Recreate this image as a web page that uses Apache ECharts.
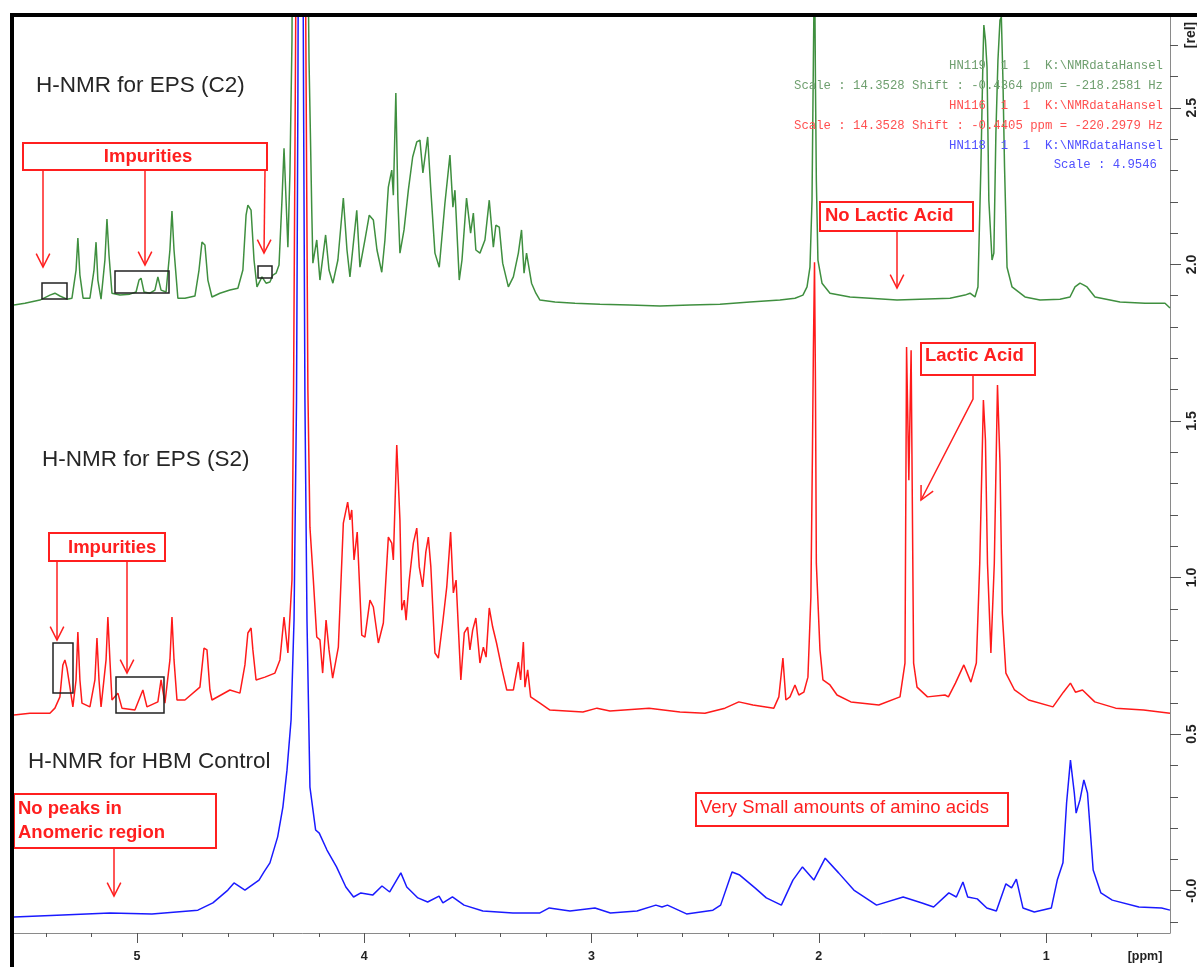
<!DOCTYPE html>
<html><head><meta charset="utf-8">
<script src="https://cdn.jsdelivr.net/npm/echarts@6/dist/echarts.min.js"></script>
<style>html,body{margin:0;padding:0;background:#fff}#c{width:1197px;height:967px}</style>
</head><body><div id="c"></div>
<script>
// ---- axis ticks ----
const ppmTicks = [1, 2, 3, 4, 5];
const ppmMinorTicks = [0.6, 0.8, 1.2, 1.4, 1.6, 1.8, 2.2, 2.4, 2.6, 2.8, 3.2, 3.4, 3.6, 3.8, 4.2, 4.4, 4.6, 4.8, 5.2, 5.4];
const relTicks = [0, 0.5, 1, 1.5, 2, 2.5];
const relMinorTicks = [-0.1, 0.1, 0.2, 0.3, 0.4, 0.6, 0.7, 0.8, 0.9, 1.1, 1.2, 1.3, 1.4, 1.6, 1.7, 1.8, 1.9, 2.1, 2.2, 2.3, 2.4, 2.6, 2.7];

// ---- spectra [ppm, rel intensity] ----
const greenC2 = [[5.541,1.870],[5.493,1.876],[5.427,1.886],[5.383,1.902],[5.361,1.908],[5.339,1.899],[5.308,1.889],[5.286,1.892],[5.268,1.982],[5.260,2.084],[5.251,1.966],[5.237,1.892],[5.207,1.892],[5.189,1.982],[5.180,2.071],[5.172,1.950],[5.158,1.889],[5.141,2.014],[5.132,2.145],[5.123,2.030],[5.110,1.908],[5.075,1.902],[5.031,1.905],[5.004,1.912],[4.991,1.950],[4.982,1.956],[4.969,1.912],[4.943,1.908],[4.921,1.918],[4.908,1.960],[4.894,1.918],[4.872,1.912],[4.855,2.046],[4.846,2.170],[4.837,2.046],[4.820,1.892],[4.789,1.892],[4.745,1.899],[4.727,1.982],[4.714,2.071],[4.701,2.062],[4.688,1.950],[4.670,1.896],[4.635,1.908],[4.591,1.918],[4.556,1.924],[4.534,1.982],[4.520,2.157],[4.512,2.189],[4.498,2.173],[4.485,2.014],[4.472,1.928],[4.450,1.960],[4.432,1.940],[4.415,1.944],[4.402,1.966],[4.388,1.972],[4.375,1.998],[4.362,2.205],[4.353,2.371],[4.344,2.205],[4.336,2.055],[4.327,2.292],[4.318,2.716],[4.314,3.3],[4.283,8],[4.252,3.3],[4.243,2.652],[4.237,2.419],[4.231,2.173],[4.226,2.004],[4.209,2.078],[4.195,1.950],[4.170,2.094],[4.155,1.982],[4.138,1.940],[4.116,2.014],[4.092,2.212],[4.076,2.046],[4.063,1.960],[4.033,2.173],[4.019,1.991],[3.997,2.078],[3.978,2.157],[3.960,2.142],[3.944,2.046],[3.923,1.975],[3.909,2.078],[3.894,2.247],[3.879,2.301],[3.872,2.221],[3.861,2.547],[3.852,2.205],[3.843,2.036],[3.825,2.110],[3.806,2.237],[3.787,2.343],[3.769,2.391],[3.755,2.397],[3.742,2.292],[3.721,2.407],[3.708,2.247],[3.689,2.036],[3.670,1.991],[3.645,2.196],[3.623,2.349],[3.610,2.183],[3.601,2.237],[3.582,1.950],[3.570,2.014],[3.550,2.212],[3.532,2.100],[3.520,2.164],[3.509,2.046],[3.491,2.036],[3.469,2.078],[3.450,2.205],[3.432,2.055],[3.421,2.125],[3.406,2.119],[3.391,2.004],[3.366,1.928],[3.344,1.960],[3.322,2.036],[3.308,2.110],[3.297,1.972],[3.286,2.036],[3.264,1.940],[3.245,1.908],[3.227,1.886],[3.161,1.880],[3.073,1.876],[2.963,1.873],[2.831,1.870],[2.699,1.867],[2.567,1.870],[2.435,1.873],[2.303,1.880],[2.171,1.886],[2.105,1.892],[2.070,1.902],[2.052,1.928],[2.039,1.991],[2.030,2.205],[2.024,2.652],[2.019,3.0],[2.015,2.589],[2.011,2.269],[2.004,2.014],[1.986,1.940],[1.951,1.908],[1.863,1.896],[1.775,1.892],[1.656,1.886],[1.555,1.889],[1.423,1.892],[1.357,1.902],[1.335,1.908],[1.313,1.896],[1.300,1.928],[1.287,2.311],[1.278,2.652],[1.274,2.764],[1.267,2.716],[1.260,2.630],[1.252,2.205],[1.238,2.014],[1.230,2.036],[1.221,2.419],[1.212,2.652],[1.203,2.780],[1.197,2.790],[1.190,2.589],[1.183,2.311],[1.172,1.991],[1.150,1.928],[1.093,1.896],[1.027,1.886],[0.939,1.889],[0.895,1.896],[0.873,1.928],[0.851,1.940],[0.834,1.934],[0.820,1.928],[0.785,1.896],[0.675,1.880],[0.565,1.876],[0.477,1.876],[0.455,1.861]];

const redS2 = [[5.541,0.561],[5.471,0.567],[5.383,0.567],[5.361,0.583],[5.339,0.619],[5.326,0.721],[5.317,0.737],[5.308,0.711],[5.295,0.650],[5.282,0.587],[5.268,0.673],[5.260,0.826],[5.251,0.673],[5.242,0.599],[5.207,0.587],[5.185,0.673],[5.176,0.807],[5.167,0.673],[5.158,0.587],[5.136,0.737],[5.128,0.874],[5.119,0.737],[5.110,0.609],[5.084,0.631],[5.066,0.583],[5.009,0.577],[4.974,0.641],[4.956,0.587],[4.908,0.603],[4.894,0.673],[4.877,0.599],[4.855,0.737],[4.846,0.874],[4.837,0.737],[4.824,0.609],[4.789,0.609],[4.723,0.650],[4.705,0.775],[4.692,0.769],[4.679,0.641],[4.670,0.609],[4.591,0.641],[4.547,0.631],[4.525,0.721],[4.512,0.823],[4.498,0.839],[4.490,0.769],[4.476,0.673],[4.437,0.682],[4.393,0.695],[4.371,0.737],[4.353,0.874],[4.336,0.759],[4.318,0.992],[4.311,1.6],[4.303,2.6],[4.296,3.5],[4.281,8],[4.263,3.5],[4.256,2.6],[4.248,1.6],[4.239,1.161],[4.224,0.992],[4.209,0.810],[4.195,0.801],[4.183,0.695],[4.168,0.864],[4.155,0.769],[4.139,0.679],[4.114,0.778],[4.092,1.174],[4.073,1.241],[4.063,1.184],[4.055,1.216],[4.045,1.056],[4.031,1.145],[4.011,0.816],[3.997,0.810],[3.975,0.928],[3.960,0.906],[3.938,0.791],[3.916,0.855],[3.894,1.129],[3.879,1.110],[3.872,1.056],[3.857,1.423],[3.843,1.184],[3.835,0.896],[3.824,0.928],[3.816,0.864],[3.802,0.992],[3.784,1.110],[3.769,1.158],[3.758,1.034],[3.743,0.970],[3.729,1.082],[3.718,1.129],[3.707,1.034],[3.689,0.759],[3.674,0.743],[3.655,0.855],[3.637,0.970],[3.620,1.145],[3.608,0.951],[3.596,0.992],[3.575,0.673],[3.560,0.823],[3.545,0.842],[3.535,0.769],[3.523,0.832],[3.509,0.871],[3.491,0.727],[3.476,0.778],[3.464,0.746],[3.450,0.903],[3.435,0.842],[3.418,0.791],[3.396,0.714],[3.373,0.641],[3.344,0.641],[3.322,0.730],[3.312,0.673],[3.300,0.794],[3.293,0.650],[3.281,0.705],[3.268,0.619],[3.227,0.599],[3.183,0.577],[3.038,0.571],[2.976,0.583],[2.919,0.574],[2.747,0.583],[2.611,0.571],[2.501,0.567],[2.413,0.583],[2.352,0.603],[2.290,0.593],[2.198,0.583],[2.176,0.619],[2.158,0.743],[2.145,0.609],[2.127,0.619],[2.105,0.657],[2.088,0.625],[2.066,0.634],[2.048,0.682],[2.035,0.938],[2.028,1.407],[2.024,1.726],[2.019,2.007],[2.015,1.631],[2.011,1.046],[1.995,0.769],[1.982,0.673],[1.951,0.657],[1.920,0.625],[1.859,0.603],[1.736,0.593],[1.643,0.619],[1.621,0.727],[1.614,1.736],[1.604,1.311],[1.594,1.726],[1.583,0.727],[1.568,0.650],[1.522,0.619],[1.445,0.625],[1.430,0.619],[1.399,0.663],[1.362,0.721],[1.331,0.666],[1.307,0.727],[1.292,1.046],[1.276,1.567],[1.267,1.439],[1.258,1.046],[1.243,0.759],[1.228,1.046],[1.214,1.615],[1.203,1.366],[1.193,0.887],[1.177,0.695],[1.139,0.641],[1.077,0.609],[0.970,0.587],[0.924,0.634],[0.893,0.663],[0.871,0.634],[0.840,0.641],[0.786,0.603],[0.694,0.583],[0.571,0.577],[0.455,0.567]];

const blueHBM = [[5.541,-0.084],[5.352,-0.078],[5.119,-0.071],[4.934,-0.074],[4.732,-0.062],[4.666,-0.039],[4.600,0.002],[4.573,0.025],[4.525,0.002],[4.463,0.034],[4.441,0.060],[4.415,0.089],[4.381,0.172],[4.358,0.267],[4.340,0.385],[4.322,0.545],[4.309,0.864],[4.298,1.567],[4.292,2.525],[4.288,3.5],[4.281,8],[4.272,3.5],[4.267,2.525],[4.261,1.567],[4.252,0.864],[4.239,0.331],[4.214,0.194],[4.198,0.184],[4.164,0.130],[4.122,0.076],[4.081,0.012],[4.047,-0.020],[4.015,-0.007],[3.963,-0.014],[3.922,0.015],[3.888,-0.004],[3.839,0.057],[3.813,0.012],[3.764,-0.023],[3.721,-0.036],[3.671,-0.017],[3.654,-0.039],[3.612,-0.020],[3.561,-0.046],[3.478,-0.065],[3.346,-0.071],[3.227,-0.071],[3.186,-0.055],[3.095,-0.065],[2.985,-0.055],[2.917,-0.071],[2.800,-0.065],[2.717,-0.046],[2.690,-0.052],[2.666,-0.046],[2.582,-0.074],[2.466,-0.062],[2.432,-0.046],[2.382,0.060],[2.348,0.050],[2.281,0.009],[2.231,-0.023],[2.165,-0.046],[2.114,0.034],[2.072,0.076],[2.022,0.034],[1.972,0.104],[1.913,0.057],[1.846,0.002],[1.746,-0.046],[1.629,-0.020],[1.546,-0.039],[1.495,-0.052],[1.428,-0.007],[1.395,-0.020],[1.366,0.028],[1.345,-0.020],[1.303,-0.026],[1.261,-0.055],[1.219,-0.065],[1.177,0.022],[1.152,0.009],[1.131,0.037],[1.102,-0.055],[1.052,-0.068],[0.977,-0.055],[0.951,0.034],[0.926,0.089],[0.910,0.280],[0.893,0.417],[0.876,0.312],[0.868,0.248],[0.851,0.290],[0.834,0.354],[0.818,0.312],[0.793,0.066],[0.759,-0.007],[0.709,-0.030],[0.592,-0.052],[0.492,-0.055],[0.455,-0.062]];

const seriesNames = ['EPS (C2)', 'EPS (S2)', 'HBM Control'];
const seriesColors = ['#3f8f3f', '#ff1a1a', '#1a1aff'];

const xMin = 0.455, xMax = 5.541, yMin = -0.135, yMax = 2.79;

// ---- annotation helpers (layout only) ----
const RED = '#ff1f1f';
function box(x1, y1, x2, y2, color, lw) {
  return {type: 'rect', shape: {x: x1, y: y1, width: x2 - x1, height: y2 - y1}, style: {fill: 'none', stroke: color, lineWidth: lw}, z: 50};
}
function arrow(pts, color, lw) {
  const n = pts.length, [x2, y2] = pts[n - 1], [x1, y1] = pts[n - 2];
  const a = Math.atan2(y2 - y1, x2 - x1), L = 15, h = 0.47;
  return [
    {type: 'polyline', shape: {points: pts}, style: {stroke: color, lineWidth: lw, fill: 'none'}, z: 50},
    {type: 'polyline', shape: {points: [[x2 - L * Math.cos(a - h), y2 - L * Math.sin(a - h)], [x2, y2], [x2 - L * Math.cos(a + h), y2 - L * Math.sin(a + h)]]}, style: {stroke: color, lineWidth: lw, fill: 'none'}, z: 50}
  ];
}
function txt(x, y, s, opt) {
  return {type: 'text', x: x, y: y, z: 50, style: Object.assign({text: s, fontFamily: '"Liberation Sans", Arial, sans-serif', fontSize: 18.5, fontWeight: 'bold', fill: RED, align: 'left', verticalAlign: 'middle'}, opt || {})};
}
const MONO = {fontFamily: '"Liberation Mono", "DejaVu Sans Mono", monospace', fontSize: 12.3, fontWeight: 'normal', align: 'right'};
const TITLE = {fontFamily: '"Liberation Sans", Arial, sans-serif', fontSize: 22.5, fontWeight: 'normal', fill: '#262626'};

const graphics = [].concat(
  [
    {type: 'rect', shape: {x: 10, y: 13, width: 4, height: 954}, style: {fill: '#000'}, z: 100},
    {type: 'rect', shape: {x: 10, y: 13, width: 1187, height: 4}, style: {fill: '#000'}, z: 100},
    txt(36, 86, 'H-NMR for EPS (C2)', TITLE),
    txt(42, 460, 'H-NMR for EPS (S2)', TITLE),
    txt(28, 762, 'H-NMR for HBM Control', TITLE),
    txt(1163, 66, 'HN119  1  1  K:\\NMRdataHansel', Object.assign({fill: '#6f9f6f'}, MONO)),
    txt(1163, 86, 'Scale : 14.3528 Shift : -0.4364 ppm = -218.2581 Hz', Object.assign({fill: '#6f9f6f'}, MONO)),
    txt(1163, 106, 'HN116  1  1  K:\\NMRdataHansel', Object.assign({fill: '#ff5050'}, MONO)),
    txt(1163, 126, 'Scale : 14.3528 Shift : -0.4405 ppm = -220.2979 Hz', Object.assign({fill: '#ff5050'}, MONO)),
    txt(1163, 146, 'HN118  1  1  K:\\NMRdataHansel', Object.assign({fill: '#5050ff'}, MONO)),
    txt(1157, 165, 'Scale : 4.9546', Object.assign({fill: '#5050ff'}, MONO)),
    {type: 'text', x: 1191, y: 35, rotation: Math.PI / 2, z: 50, style: {text: '[rel]', fontFamily: '"Liberation Sans", Arial, sans-serif', fontSize: 14, fontWeight: 'bold', fill: '#222', align: 'center', verticalAlign: 'middle'}},
    {type: 'text', x: 1145, y: 957, z: 50, style: {text: '[ppm]', fontFamily: '"Liberation Sans", Arial, sans-serif', fontSize: 12.5, fontWeight: 'bold', fill: '#222', align: 'center', verticalAlign: 'middle'}},
    // C2 annotations
    box(23, 143, 267, 170, RED, 2),
    txt(148, 157, 'Impurities', {align: 'center'}),
    box(42, 283, 67, 299, '#222', 1.5),
    box(115, 271, 169, 293, '#222', 1.5),
    box(258, 266, 272, 278, '#222', 1.5),
    box(820, 202, 973, 231, RED, 2),
    txt(825, 216, 'No Lactic Acid'),
    // S2 annotations
    box(49, 533, 165, 561, RED, 2),
    txt(68, 548, 'Impurities'),
    box(53, 643, 73, 693, '#222', 1.5),
    box(116, 677, 164, 713, '#222', 1.5),
    box(921, 343, 1035, 375, RED, 2),
    txt(925, 356, 'Lactic Acid'),
    // HBM annotations
    box(14, 794, 216, 848, RED, 2),
    txt(18, 809, 'No peaks in'),
    txt(18, 833, 'Anomeric region'),
    box(696, 793, 1008, 826, RED, 2),
    txt(700, 808, 'Very Small amounts of amino acids', {fontWeight: 'normal'})
  ],
  arrow([[43, 170], [43, 267]], RED, 1.5),
  arrow([[145, 170], [145, 265]], RED, 1.5),
  arrow([[265, 170], [264, 253]], RED, 1.5),
  arrow([[897, 231], [897, 288]], RED, 1.5),
  arrow([[57, 561], [57, 640]], RED, 1.5),
  arrow([[127, 561], [127, 673]], RED, 1.5),
  arrow([[973, 375], [973, 399], [921, 500]], RED, 1.5),
  arrow([[114, 848], [114, 896]], RED, 1.5)
);

const chart = echarts.init(document.getElementById('c'), null, {renderer: 'canvas'});
const xCommon = {type: 'value', inverse: true, min: xMin, max: xMax, position: 'bottom', splitLine: {show: false}};
const yCommon = {type: 'value', position: 'right', min: yMin, max: yMax, splitLine: {show: false}};
chart.setOption({
  animation: false,
  backgroundColor: '#fff',
  textStyle: {fontFamily: '"Liberation Sans", Arial, sans-serif'},
  grid: {left: 14, right: 27, top: 17, bottom: 34, containLabel: false, outerBoundsMode: 'none'},
  xAxis: [
    Object.assign({}, xCommon, {
      axisLine: {show: true, onZero: false, lineStyle: {color: '#8a8a8a', width: 1}},
      axisTick: {show: true, customValues: ppmTicks, length: 10, lineStyle: {color: '#555'}},
      axisLabel: {show: true, customValues: ppmTicks, margin: 17, fontSize: 12.5, fontWeight: 'bold', color: '#222'}
    }),
    Object.assign({}, xCommon, {
      axisLine: {show: false, onZero: false},
      axisTick: {show: true, customValues: ppmMinorTicks, length: 4, lineStyle: {color: '#555'}},
      axisLabel: {show: false}
    })
  ],
  yAxis: [
    Object.assign({}, yCommon, {
      axisLine: {show: true, onZero: false, lineStyle: {color: '#8a8a8a', width: 1}},
      axisTick: {show: true, customValues: relTicks, length: 11, lineStyle: {color: '#555'}},
      axisLabel: {show: true, customValues: relTicks, rotate: 90, margin: 15, fontSize: 14, fontWeight: 'bold', color: '#222',
        formatter: v => (v === 0 ? '-0.0' : Number(v).toFixed(1))}
    }),
    Object.assign({}, yCommon, {
      axisLine: {show: false, onZero: false},
      axisTick: {show: true, customValues: relMinorTicks, length: 8, lineStyle: {color: '#555'}},
      axisLabel: {show: false}
    })
  ],
  series: [greenC2, redS2, blueHBM].map((d, i) => ({
    type: 'line', name: seriesNames[i], data: d, xAxisIndex: 0, yAxisIndex: 0,
    symbol: 'none', showSymbol: false, clip: true, z: 2 + i,
    lineStyle: {color: seriesColors[i], width: 1.5}
  })),
  graphic: graphics
});
</script>
</body></html>
